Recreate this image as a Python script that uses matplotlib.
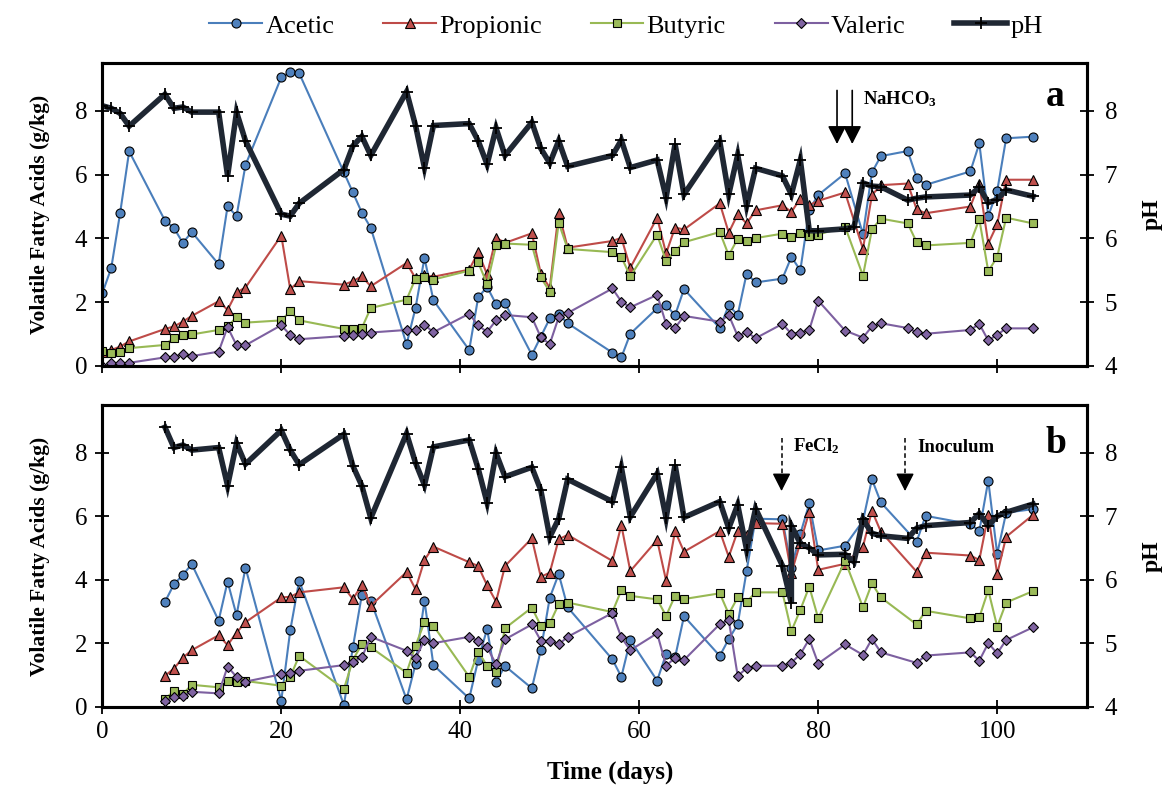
import matplotlib
matplotlib.use('Agg')
import matplotlib.pyplot as plt

plt.rcParams['font.family'] = ['Liberation Serif', 'DejaVu Serif']
plt.rcParams['mathtext.fontset'] = 'custom'
plt.rcParams['mathtext.rm'] = 'Liberation Serif'
plt.rcParams['mathtext.bf'] = 'Liberation Serif:bold'

# ---------------- Panel a data ----------------
days_a = [0, 1, 2, 3, 7, 8, 9, 10, 13, 14, 15, 16, 20, 21, 22, 27, 28, 29, 30, 34, 35, 36, 37,
          41, 42, 43, 44, 45, 48, 49, 50, 51, 52, 57, 58, 59, 62, 63, 64, 65, 69, 70, 71, 72, 73,
          76, 77, 78, 79, 80, 83, 85, 86, 87, 90, 91, 92, 97, 98, 99, 100, 101, 104]
acetic_a = [2.28, 3.07, 4.81, 6.73, 4.56, 4.33, 3.86, 4.20, 3.19, 5.01, 4.70, 6.30, 9.05, 9.21, 9.18,
            6.07, 5.44, 4.81, 4.33, 0.68, 1.82, 3.39, 2.06, 0.50, 2.15, 2.48, 1.94, 1.97, 0.35, 0.92,
            1.49, 1.62, 1.34, 0.42, 0.27, 1.01, 1.81, 1.91, 1.59, 2.41, 1.19, 1.90, 1.60, 2.90, 2.62,
            2.74, 3.42, 3.00, 4.90, 5.36, 6.04, 4.13, 6.07, 6.58, 6.74, 5.91, 5.68, 6.10, 6.98, 4.70,
            5.49, 7.14, 7.19]
propionic_a = [0.45, 0.50, 0.61, 0.77, 1.16, 1.24, 1.39, 1.57, 2.03, 1.76, 2.31, 2.46, 4.09, 2.41, 2.66,
               2.55, 2.66, 2.81, 2.50, 3.23, 2.75, 2.85, 2.80, 3.02, 3.57, 2.87, 4.02, 3.86, 4.16, 2.90,
               2.45, 4.81, 3.71, 3.92, 4.02, 3.08, 4.65, 3.53, 4.34, 4.28, 5.10, 4.18, 4.76, 4.47, 4.88,
               5.04, 4.83, 5.25, 5.04, 5.18, 5.44, 3.67, 5.36, 5.67, 5.72, 4.91, 4.79, 5.00, 5.72, 3.84,
               4.44, 5.84, 5.84]
butyric_a = [0.48, 0.40, 0.45, 0.56, 0.66, 0.89, 0.96, 0.99, 1.13, 1.24, 1.53, 1.36, 1.43, 1.71, 1.43,
             1.16, 1.16, 1.19, 1.82, 2.08, 2.74, 2.79, 2.71, 2.99, 3.25, 2.57, 3.78, 3.84, 3.80, 2.78,
             2.33, 4.49, 3.67, 3.57, 3.42, 2.81, 4.12, 3.29, 3.61, 3.88, 4.20, 3.47, 3.99, 3.92, 4.01,
             4.15, 4.05, 4.18, 4.09, 4.12, 4.37, 2.83, 4.28, 4.62, 4.47, 3.88, 3.78, 3.86, 4.60, 2.97,
             3.42, 4.65, 4.47]
valeric_a = [0.00, 0.08, 0.08, 0.10, 0.27, 0.29, 0.38, 0.31, 0.45, 1.22, 0.65, 0.65, 1.28, 0.97, 0.84,
             0.94, 0.97, 1.01, 1.05, 1.13, 1.13, 1.29, 1.06, 1.64, 1.27, 1.07, 1.43, 1.60, 1.53, 0.90,
             0.69, 1.53, 1.66, 2.43, 2.02, 1.84, 2.23, 1.32, 1.19, 1.57, 1.39, 1.60, 0.94, 1.07, 0.87,
             1.32, 1.01, 1.05, 1.13, 2.05, 1.11, 0.89, 1.24, 1.34, 1.19, 1.06, 1.01, 1.13, 1.32, 0.80,
             0.98, 1.18, 1.18]
ph_days_a = [0, 1, 2, 3, 7, 8, 9, 10, 13, 14, 15, 16, 20, 21, 22, 27, 28, 29, 30, 34, 35, 36, 37,
             41, 42, 43, 44, 45, 48, 49, 50, 51, 52, 57, 58, 59, 62, 63, 64, 65, 69, 70, 71, 72, 73,
             76, 77, 78, 79, 80, 83, 84, 85, 86, 87, 90, 91, 92, 97, 98, 99, 100, 101, 104]
ph_a = [8.08, 8.04, 7.96, 7.76, 8.26, 8.04, 8.06, 7.98, 7.98, 6.98, 7.98, 7.53, 6.38, 6.35, 6.55,
        7.08, 7.45, 7.60, 7.30, 8.30, 7.77, 7.11, 7.77, 7.80, 7.53, 7.16, 7.73, 7.30, 7.82, 7.41,
        7.18, 7.53, 7.13, 7.30, 7.54, 7.11, 7.23, 6.64, 7.48, 6.69, 7.52, 6.69, 7.31, 6.51, 7.10,
        6.98, 6.69, 7.23, 6.12, 6.12, 6.15, 6.18, 6.87, 6.82, 6.81, 6.60, 6.63, 6.65, 6.68, 6.80,
        6.56, 6.61, 6.76, 6.66]

# ---------------- Panel b data ----------------
days_b = [7, 8, 9, 10, 13, 14, 15, 16, 20, 21, 22, 27, 28, 29, 30, 34, 35, 36, 37, 41, 42, 43, 44,
          45, 48, 49, 50, 51, 52, 57, 58, 59, 62, 63, 64, 65, 69, 70, 71, 72, 73, 76, 77, 78, 79,
          80, 83, 85, 86, 87, 91, 92, 97, 98, 99, 100, 101, 104]
acetic_b = [3.30, 3.85, 4.15, 4.49, 2.71, 3.94, 2.88, 4.38, 0.19, 2.40, 3.97, 0.05, 1.87, 3.52, 3.34,
            0.23, 1.34, 3.34, 1.31, 0.26, 1.47, 2.45, 0.79, 1.28, 0.58, 1.78, 3.43, 4.18, 3.13, 1.49,
            0.94, 2.10, 0.82, 1.66, 1.55, 2.85, 1.60, 2.13, 2.59, 4.28, 5.92, 5.90, 4.36, 5.44, 6.40,
            4.92, 5.07, 5.85, 7.16, 6.43, 5.20, 6.01, 5.75, 5.53, 7.12, 4.81, 6.11, 6.22]
propionic_b = [0.97, 1.20, 1.54, 1.78, 2.25, 1.94, 2.33, 2.66, 3.44, 3.46, 3.60, 3.76, 3.39, 3.83, 3.18,
               4.24, 3.70, 4.62, 5.04, 4.55, 4.43, 3.82, 3.31, 4.43, 5.30, 4.09, 4.22, 5.27, 5.41, 4.59,
               5.72, 4.27, 5.25, 3.97, 5.53, 4.88, 5.53, 4.72, 5.53, 5.41, 5.78, 5.76, 4.20, 5.17, 6.14,
               4.31, 4.50, 5.04, 6.17, 5.51, 4.25, 4.85, 4.76, 4.62, 6.04, 4.18, 5.35, 6.04]
butyric_b = [0.24, 0.49, 0.40, 0.69, 0.61, 0.81, 0.79, 0.81, 0.66, 0.94, 1.60, 0.56, 1.47, 1.97, 1.87,
             1.07, 1.92, 2.66, 2.55, 0.94, 1.73, 1.29, 1.10, 2.47, 3.12, 2.55, 2.62, 3.23, 3.28, 2.98,
             3.67, 3.49, 3.38, 2.86, 3.49, 3.39, 3.57, 2.92, 3.44, 3.30, 3.60, 3.60, 2.38, 3.05, 3.78,
             2.78, 4.59, 3.13, 3.88, 3.44, 2.59, 3.02, 2.78, 2.81, 3.67, 2.52, 3.28, 3.64]
valeric_b = [0.18, 0.31, 0.35, 0.47, 0.42, 1.26, 0.94, 0.79, 1.02, 1.05, 1.13, 1.31, 1.40, 1.55, 2.20,
             1.76, 1.52, 2.10, 2.00, 2.20, 2.08, 1.87, 1.34, 2.12, 2.59, 2.08, 2.08, 1.96, 2.20, 2.95,
             2.18, 1.78, 2.31, 1.29, 1.54, 1.47, 2.60, 2.73, 0.97, 1.21, 1.29, 1.29, 1.39, 1.65, 2.13,
             1.36, 1.96, 1.63, 2.13, 1.71, 1.38, 1.61, 1.71, 1.45, 2.00, 1.68, 2.10, 2.50]
ph_days_b = [7, 8, 9, 10, 13, 14, 15, 16, 20, 21, 22, 27, 28, 29, 30, 34, 35, 36, 37, 41, 42, 43, 44,
             45, 48, 49, 50, 51, 52, 57, 58, 59, 62, 63, 64, 65, 69, 70, 71, 72, 73, 76, 77, 77, 78,
             79, 80, 83, 84, 85, 86, 87, 90, 91, 92, 97, 98, 99, 100, 101, 104]
ph_b = [8.40, 8.08, 8.12, 8.04, 8.08, 7.48, 8.15, 7.82, 8.35, 8.04, 7.81, 8.29, 7.79, 7.48, 6.97,
        8.30, 7.84, 7.49, 8.09, 8.20, 7.75, 7.21, 7.99, 7.62, 7.77, 7.41, 6.67, 6.96, 7.58, 7.23,
        7.77, 6.99, 7.67, 6.97, 7.81, 6.98, 7.23, 6.81, 7.18, 6.47, 7.12, 6.22, 5.63, 6.85, 6.57,
        6.50, 6.39, 6.40, 6.28, 6.95, 6.73, 6.69, 6.65, 6.81, 6.85, 6.90, 7.04, 6.85, 7.00, 7.06, 7.19]

series_names = ['Acetic', 'Propionic', 'Butyric', 'Valeric']
x_ticks = [0, 20, 40, 60, 80, 100]
left_ticks = [0, 2, 4, 6, 8]
right_ticks = [4, 5, 6, 7, 8]

styles = [
    dict(line='#4A7EBB', face='#4F81BD', marker='o', ms=6.5),
    dict(line='#BE4B48', face='#C0504D', marker='^', ms=7),
    dict(line='#98B954', face='#9BBB59', marker='s', ms=6),
    dict(line='#7D60A0', face='#8064A2', marker='D', ms=5),
]
PH_COLOR = '#1F2733'
FS_TICK = 18

fig = plt.figure(figsize=(11.73, 7.87), dpi=100)
L, W = 102.3 / 1173, 984.4 / 1173
axA = fig.add_axes([L, 1 - 366 / 787, W, 303 / 787])
axB = fig.add_axes([L, 1 - 706.7 / 787, W, 301.7 / 787])


def draw(ax, days, acids, ph_days, ph, show_xlabels):
    handles = []
    for vals, st, name in zip(acids, styles, series_names):
        h, = ax.plot(days, vals, color=st['line'], lw=1.5, marker=st['marker'], ms=st['ms'],
                     mfc=st['face'], mec='black', mew=0.8, label=name, zorder=3)
        handles.append(h)
    ax2 = ax.twinx()
    hp, = ax2.plot(ph_days, ph, color=PH_COLOR, lw=4, marker='+', ms=8, mec='black', mew=1.3,
                   label='pH', solid_joinstyle='miter')
    handles.append(hp)
    ax.set_xlim(0, 110)
    ax.set_ylim(0, 9.5)
    ax2.set_ylim(4, 8.75)
    ax.set_xticks(x_ticks)
    ax.set_yticks(left_ticks)
    ax2.set_yticks(right_ticks)
    for a in (ax, ax2):
        for sp in a.spines.values():
            sp.set_linewidth(2.2)
        a.tick_params(direction='inout', length=10, width=1.3, labelsize=FS_TICK, pad=6)
    ax2.tick_params(axis='y', pad=8)
    ax.tick_params(axis='x', labelbottom=show_xlabels, pad=5)
    return handles


handles = draw(axA, days_a, [acetic_a, propionic_a, butyric_a, valeric_a], ph_days_a, ph_a, False)
draw(axB, days_b, [acetic_b, propionic_b, butyric_b, valeric_b], ph_days_b, ph_b, True)

# panel letters
axA.text(106.5, 8.16, 'a', fontsize=27, fontweight='bold', ha='center', va='baseline')
axB.text(106.6, 7.99, 'b', fontsize=27, fontweight='bold', ha='center', va='baseline')

# NaHCO3 arrows (solid)
for xd in (82.1, 83.8):
    axA.annotate('', xy=(xd, 6.96), xytext=(xd, 8.64),
                 arrowprops=dict(arrowstyle='-|>,head_length=0.55,head_width=0.28', lw=1.2,
                                 color='black', shrinkA=0, shrinkB=0, mutation_scale=20))
axA.text(85.0, 8.22, r'$\mathbf{NaHCO_3}$', fontsize=13.5, ha='left', va='baseline')

# dashed arrows in panel b
for xd, label, tx in ((75.9, r'$\mathbf{FeCl_2}$', 77.2), (89.7, 'Inoculum', 91.1)):
    axB.plot([xd, xd], [8.46, 7.2], color='black', lw=1.1, ls=(0, (3, 2)))
    axB.annotate('', xy=(xd, 6.79), xytext=(xd, 7.25),
                 arrowprops=dict(arrowstyle='-|>,head_length=0.55,head_width=0.28', lw=1.0,
                                 color='black', shrinkA=0, shrinkB=0, mutation_scale=20))
    axB.text(tx, 8.03, label, fontsize=13.5, fontweight='bold', ha='left', va='baseline')

# axis titles
fig.text(40 / 1173, 1 - 214.5 / 787, 'Volatile Fatty Acids (g/kg)', rotation=90, fontsize=15.5,
         fontweight='bold', ha='center', va='center')
fig.text(40 / 1173, 1 - 556 / 787, 'Volatile Fatty Acids (g/kg)', rotation=90, fontsize=15.5,
         fontweight='bold', ha='center', va='center')
fig.text(1152 / 1173, 1 - 214.5 / 787, 'pH', rotation=90, fontsize=17,
         fontweight='bold', ha='center', va='center')
fig.text(1152 / 1173, 1 - 556 / 787, 'pH', rotation=90, fontsize=17,
         fontweight='bold', ha='center', va='center')
fig.text(610 / 1173, 1 - 772 / 787, 'Time (days)', fontsize=18, fontweight='bold',
         ha='center', va='center')

fig.legend(handles=handles, labels=series_names + ['pH'], loc='center', ncol=5,
           bbox_to_anchor=(626 / 1173, 1 - 26 / 787), frameon=False, fontsize=19,
           handlelength=2.0, handletextpad=0.12, columnspacing=1.85, borderpad=0)

fig.savefig('out.png', dpi=100)
